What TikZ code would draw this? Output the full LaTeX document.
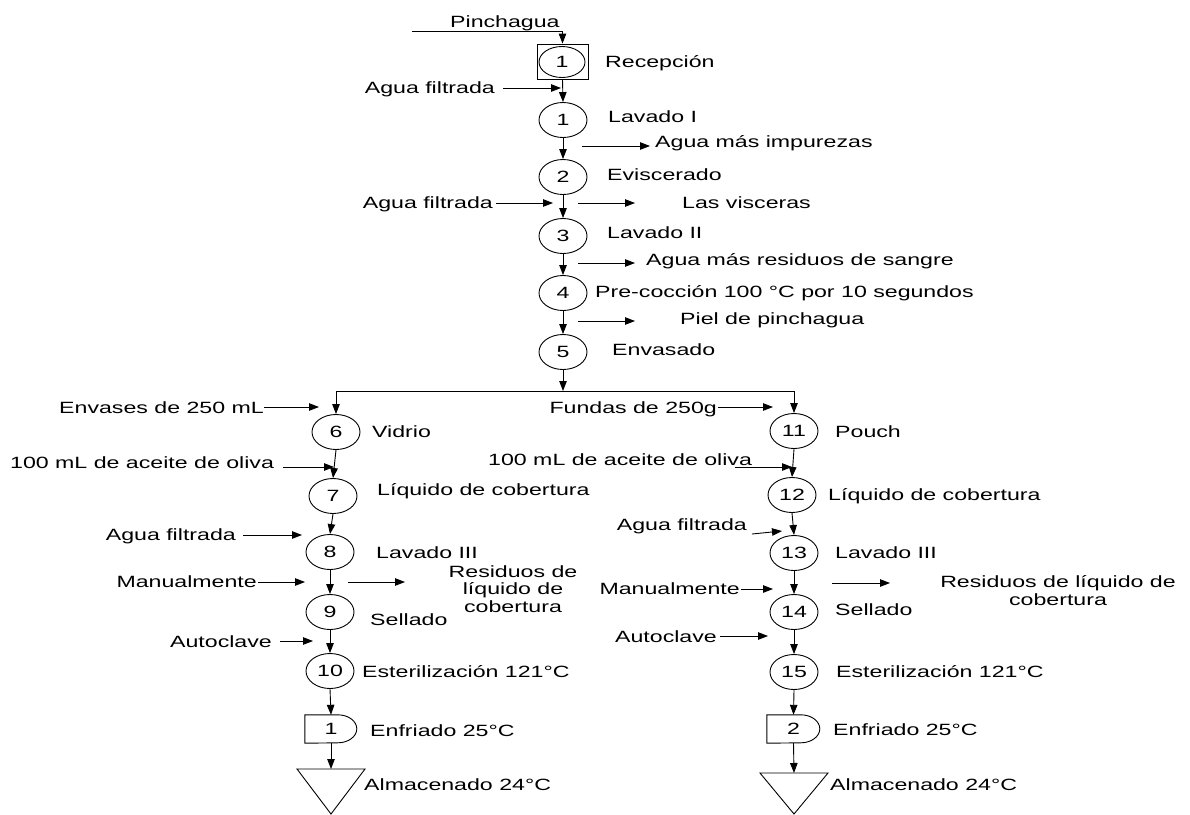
\documentclass[tikz,border=0pt]{standalone}
\usepackage{fontspec}
\usetikzlibrary{arrows.meta,shapes.geometric}
\newfontfamily\arialx{Liberation Sans}[FakeStretch=1.42]
\newcommand\lblf{\arialx\fontsize{16.3pt}{17.5pt}\selectfont}
\tikzset{
  proc/.style={draw, ellipse, line width=0.9pt, minimum width=48pt, minimum height=35pt, inner sep=0pt, font=\lblf},
  lbl/.style={inner sep=0pt, font=\lblf},
  lw/.style={lbl, anchor=base west},
  le/.style={lbl, anchor=base east},
  arr/.style={-{Triangle[length=10pt,width=7.5pt]}, line width=0.9pt},
  ln/.style={line width=0.9pt},
}
\begin{document}
\begin{tikzpicture}[x=1pt,y=-1pt]
\useasboundingbox (0,0) rectangle (1190,814);
% ---------- main column ----------
\node[lw] (tpin) at (450,27) {Pinchagua};
\coordinate (pin0) at (412,31);
\node[draw, line width=0.9pt, minimum width=51pt, minimum height=35pt, inner sep=0pt] (rbox) at (562.5,61.5) {};
\node[proc, minimum width=46pt, minimum height=31pt] (c0) at (562,62) {1};
\node[lw] (trec) at (605,67) {Recepción};
\draw[arr] (pin0) -| (rbox.north);

\node[proc] (c1) at (563,120) {1};
\node[lw] (tl1) at (608,122) {Lavado I};
\draw[arr] (rbox.south) -- (c1.north);
\node[le] (af1) at (495,93) {Agua filtrada};
\coordinate (af1e) at (561,88);
\draw[arr] ([xshift=8pt,yshift=5pt]af1.base east) -- (af1e);
\coordinate (o1s) at (582,146); \coordinate (o1e) at (650,146);
\draw[arr] (o1s) -- (o1e);
\node[lw] (to1) at (655,147) {Agua más impurezas};

\node[proc] (c2) at (563,177) {2};
\node[lw] (tev) at (607,180) {Eviscerado};
\draw[arr] (c1.south) -- (c2.north);
\node[le] (af2) at (493,208) {Agua filtrada};
\coordinate (af2e) at (553,203);
\draw[arr] ([xshift=3pt,yshift=5pt]af2.base east) -- (af2e);
\coordinate (o2s) at (578,203); \coordinate (o2e) at (635,203);
\draw[arr] (o2s) -- (o2e);
\node[lw] (to2) at (682,208) {Las visceras};

\node[proc] (c3) at (563,236) {3};
\node[lw] (tl2) at (607,238) {Lavado II};
\draw[arr] (c2.south) -- (c3.north);
\coordinate (o3s) at (578,263); \coordinate (o3e) at (635,263);
\draw[arr] (o3s) -- (o3e);
\node[lw] (to3) at (646,265) {Agua más residuos de sangre};

\node[proc] (c4) at (563,293) {4};
\node[lw] (tpc) at (595,297) {Pre-cocción 100 °C por 10 segundos};
\draw[arr] (c3.south) -- (c4.north);
\coordinate (o4s) at (578,321); \coordinate (o4e) at (635,321);
\draw[arr] (o4s) -- (o4e);
\node[lw] (to4) at (680,324) {Piel de pinchagua};

\node[proc] (c5) at (563,352) {5};
\node[lw] (ten) at (612,355) {Envasado};
\draw[arr] (c4.south) -- (c5.north);
\coordinate (sp) at (563,391);
\draw[arr] (c5.south) -- (sp);

% ---------- left branch ----------
\node[proc] (c6) at (336,432) {6};
\node[lw] (tvi) at (372,437) {Vidrio};
\draw[arr] (sp) -| (c6.north);
\node[le] (tenv) at (264,413) {Envases de 250 mL};
\coordinate (enve) at (319,407);
\draw[arr] ([yshift=6pt]tenv.base east) -- (enve);

\node[proc] (c7) at (333,496) {7};
\node[lw] (tlq1) at (377,495) {Líquido de cobertura};
\draw[arr] (c6.south) -- (c7.north);
\node[lw] (tac1) at (10,468) {100 mL de aceite de oliva};
\coordinate (ac1s) at (283,467); \coordinate (ac1e) at (334,467);
\draw[arr] (ac1s) -- (ac1e);

\node[proc] (c8) at (330,552) {8};
\node[lw] (tl3a) at (376,558) {Lavado III};
\draw[arr] (c7.south) -- (c8.north);
\node[le] (af3) at (236,540) {Agua filtrada};
\coordinate (af3s) at (243,535); \coordinate (af3e) at (302,535);
\draw[arr] (af3s) -- (af3e);

\node[proc] (c9) at (330,612) {9};
\node[lw] (tse1) at (370,625) {Sellado};
\draw[arr] (c8.south) -- (c9.north);
\node[le] (tma1) at (257,587) {Manualmente};
\coordinate (ma1e) at (305,582);
\draw[arr] ([xshift=1pt,yshift=5pt]tma1.base east) -- (ma1e);
\coordinate (o5s) at (348,582); \coordinate (o5e) at (405,582);
\draw[arr] (o5s) -- (o5e);
\node[lbl, align=center, anchor=base] (tres1) at (513,612) {Residuos de\\líquido de\\cobertura};

\node[proc] (c10) at (330,671) {10};
\node[lw] (tes1) at (362,677) {Esterilización 121°C};
\draw[arr] (c9.south) -- (c10.north);
\node[le] (tau1) at (272,647) {Autoclave};
\coordinate (au1s) at (280,641); \coordinate (au1e) at (313,641);
\draw[arr] (au1s) -- (au1e);

\node[lbl, minimum width=52pt, minimum height=28pt] (d1) at (331,729) {1};
\draw[ln] (d1.north west) -- ++(33,0) arc(-90:90:19 and 14) -- (d1.south west) -- cycle;
\node[lw] (ten1) at (370,736) {Enfriado 25°C};
\draw[arr] (c10.south) -- (d1.north);

\coordinate (t1) at (331,769);
\draw[ln] (297,769) -- (365,769) -- (331,814) -- cycle;
\node[lw] (tal1) at (364,790) {Almacenado 24°C};
\draw[arr] (d1.south) -- (t1);

% ---------- right branch ----------
\node[proc] (c11) at (794,431) {11};
\node[lw] (tpo) at (835,437) {Pouch};
\draw[arr] (sp) -| (c11.north);
\node[le] (tfu) at (717,413) {Fundas de 250g};
\coordinate (fue) at (773,407);
\draw[arr] ([xshift=1pt,yshift=6pt]tfu.base east) -- (fue);

\node[proc] (c12) at (792,495) {12};
\node[lw] (tlq2) at (828,500) {Líquido de cobertura};
\draw[arr] (c11.south) -- (c12.north);
\node[lw] (tac2) at (488,465) {100 mL de aceite de oliva};
\coordinate (ac2s) at (735,467); \coordinate (ac2e) at (792,467);
\draw[arr] (ac2s) -- (ac2e);

\node[proc] (c13) at (794,553) {13};
\node[lw] (tl3b) at (835,558) {Lavado III};
\draw[arr] (c12.south) -- (c13.north);
\node[le] (af4) at (747,530) {Agua filtrada};
\coordinate (af4s) at (752,534); \coordinate (af4e) at (782,531);
\draw[arr] (af4s) -- (af4e);

\node[proc] (c14) at (794,612) {14};
\node[lw] (tse2) at (835,615) {Sellado};
\draw[arr] (c13.south) -- (c14.north);
\node[le] (tma2) at (740,594) {Manualmente};
\coordinate (ma2e) at (773,589);
\draw[arr] ([xshift=1pt,yshift=5pt]tma2.base east) -- (ma2e);
\coordinate (o6s) at (832,583); \coordinate (o6e) at (890,583);
\draw[arr] (o6s) -- (o6e);
\node[lbl, align=center, anchor=base] (tres2) at (1058,605) {Residuos de líquido de\\cobertura};

\node[proc] (c15) at (794,672) {15};
\node[lw] (tes2) at (836,677) {Esterilización 121°C};
\draw[arr] (c14.south) -- (c15.north);
\node[le] (tau2) at (717,642) {Autoclave};
\coordinate (au2s) at (720,636); \coordinate (au2e) at (768,636);
\draw[arr] (au2s) -- (au2e);

\node[lbl, minimum width=53pt, minimum height=28pt] (d2) at (793.5,729) {2};
\draw[ln] (d2.north west) -- ++(34,0) arc(-90:90:19 and 14) -- (d2.south west) -- cycle;
\node[lw] (ten2) at (833,735) {Enfriado 25°C};
\draw[arr] (c15.south) -- (d2.north);

\coordinate (t2) at (794,773);
\draw[ln] (760,773) -- (828,773) -- (794,814) -- cycle;
\node[lw] (tal2) at (830,790) {Almacenado 24°C};
\draw[arr] (d2.south) -- (t2);
\end{tikzpicture}
\end{document}
